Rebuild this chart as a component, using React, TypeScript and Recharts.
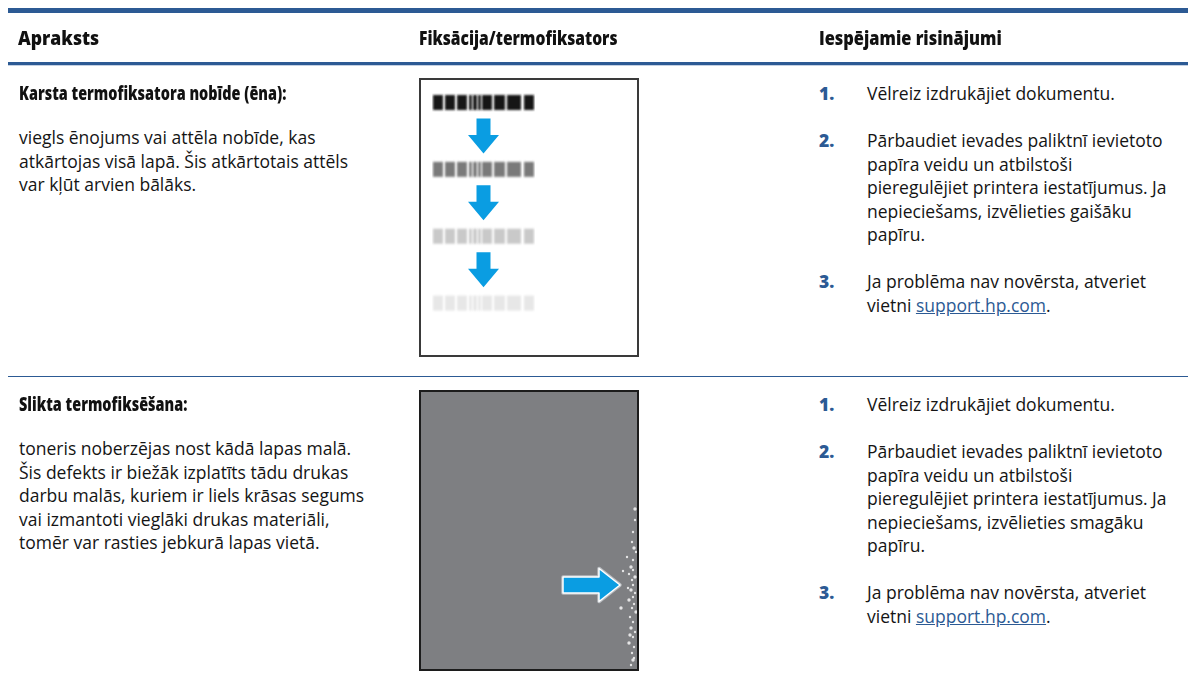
import React from 'react';
import { BarChart, Bar, XAxis, YAxis, ScatterChart, Scatter } from 'recharts';

// ---------- text content ----------
const headers = ['Apraksts', 'Fiksācija/termofiksators', 'Iespējamie risinājumi'];
const rowTitles = ['Karsta termofiksatora nobīde (ēna):', 'Slikta termofiksēšana:'];
const rowDescriptions = [
  ['viegls ēnojums vai attēla nobīde, kas', 'atkārtojas visā lapā. Šis atkārtotais attēls', 'var kļūt arvien bālāks.'],
  [
    'toneris noberzējas nost kādā lapas malā.',
    'Šis defekts ir biežāk izplatīts tādu drukas',
    'darbu malās, kuriem ir liels krāsas segums',
    'vai izmantoti vieglāki drukas materiāli,',
    'tomēr var rasties jebkurā lapas vietā.',
  ],
];
const stepNumbers = ['1.', '2.', '3.'];
const stepOne = 'Vēlreiz izdrukājiet dokumentu.';
const stepTwo = [
  ['Pārbaudiet ievades paliktnī ievietoto', 'papīra veidu un atbilstoši', 'pieregulējiet printera iestatījumus. Ja', 'nepieciešams, izvēlieties gaišāku', 'papīru.'],
  ['Pārbaudiet ievades paliktnī ievietoto', 'papīra veidu un atbilstoši', 'pieregulējiet printera iestatījumus. Ja', 'nepieciešams, izvēlieties smagāku', 'papīru.'],
];
const stepThreeLine = 'Ja problēma nav novērsta, atveriet';
const stepThreePrefix = 'vietni ';
const stepThreeLink = 'support.hp.com';

// ---------- illustration 1: fading ghost barcodes ----------
const ghostRows = ['b1', 'a1', 'b2', 'a2', 'b3', 'a3', 'b4'];
const ghostShades = ['#181818', '#7a7a7a', '#c9c9c9', '#e7e7e7'];
const barcodeSegments = [10, 2, 10, 2, 10, 2, 3, 1, 4, 1, 3, 1, 10, 2, 11, 2, 14, 3, 10];
const barcodeOffset = 14;
const downArrowOffset = 49;
const downArrowWidth = 31;

// ---------- illustration 2: poor fusing speckles ----------
const speckleX = [216, 214, 213, 215, 217, 214, 212, 214, 210, 216, 213, 214, 212, 216, 214, 210, 215, 213, 217, 211, 214, 212, 216, 214, 210, 215, 213, 214, 212, 204, 202, 208, 216, 211, 209, 215];
const speckleY = [119, 142, 152, 158, 162, 170, 177, 180, 184, 187, 190, 195, 200, 203, 207, 210, 214, 218, 222, 227, 232, 238, 242, 247, 253, 257, 263, 270, 275, 181, 218, 167, 130, 245, 198, 268];
const speckles = speckleX.map((x, i) => ({ x, y: speckleY[i] }));
const rightArrow = [{ x: 172, y: 195 }];

const BLUE = '#2c5a94';
const CYAN = '#0a9de2';
const LINE = 23.5;
const ROW_TOPS = [85, 396];
const IMAGE_TOPS = [70, 382];
const IMAGE_HEIGHTS = [279, 281];
const HEADER_X = [10, 411, 811];
const HEADER_SCALE = [0.88, 0.78, 0.82];

const ghostData = (() => {
  let shade = 0;
  return ghostRows.map((row) => {
    const isBar = row.startsWith('b');
    const o: any = { row, kind: isBar ? 'bar' : 'arrow', color: isBar ? ghostShades[shade++] : CYAN };
    o.off = isBar ? barcodeOffset : downArrowOffset;
    barcodeSegments.forEach((w, j) => {
      o['s' + j] = isBar ? w : 0;
    });
    o.arrow = isBar ? 0 : downArrowWidth;
    return o;
  });
})();

const segShape = (j: number) => (p: any) => {
  const { x, y, width, height, payload } = p;
  if (j % 2 === 1 || !width || width <= 0 || !payload || payload.kind !== 'bar') return <g />;
  return <rect x={x} y={y + height / 2 - 7.5} width={width} height={15} fill={payload.color} filter="url(#bcblur)" />;
};

const downArrowShape = (p: any) => {
  const { x, y, width, height, payload } = p;
  if (!width || width <= 0 || !payload || payload.kind !== 'arrow') return <g />;
  const cx = x + width / 2;
  const sh = 7;
  const hh = width / 2;
  const top = y - 1;
  const headY = y + height * 0.47;
  const tip = y + height + 1;
  const pts = [
    [cx - sh, top], [cx + sh, top], [cx + sh, headY], [cx + hh, headY],
    [cx, tip], [cx - hh, headY], [cx - sh, headY],
  ].map((q) => q.join(',')).join(' ');
  return <polygon points={pts} fill={CYAN} />;
};

const rightArrowShape = (p: any) => {
  const { cx, cy } = p;
  const pts = [
    [cx - 28, cy - 8], [cx + 8, cy - 8], [cx + 8, cy - 16.5], [cx + 29, cy],
    [cx + 8, cy + 16.5], [cx + 8, cy + 8], [cx - 28, cy + 8],
  ].map((q) => q.join(',')).join(' ');
  return (
    <g>
      <polygon points={pts} fill="none" stroke="#b9bcc0" strokeWidth={3.5} strokeLinejoin="round" />
      <polygon points={pts} fill={CYAN} stroke="#ffffff" strokeWidth={1.5} strokeLinejoin="round" />
    </g>
  );
};

const speckShape = (p: any) => {
  const { cx, cy, index } = p;
  const r = index % 3 === 0 ? 1.7 : 1.2;
  return <circle cx={cx} cy={cy} r={r} fill="#f1f1f1" fillOpacity={0.9} />;
};

function GhostChart() {
  return (
    <BarChart
      width={220}
      height={279}
      data={ghostData}
      layout="vertical"
      margin={{ top: 8, right: 0, bottom: 37, left: 0 }}
      barCategoryGap={0}
      barGap={0}
    >
      <defs>
        <filter id="bcblur" x="-10%" y="-30%" width="120%" height="160%">
          <feGaussianBlur stdDeviation="0.8" />
        </filter>
      </defs>
      <XAxis type="number" domain={[0, 220]} hide />
      <YAxis type="category" dataKey="row" hide />
      <Bar dataKey="off" stackId="g" fill="transparent" isAnimationActive={false} />
      {barcodeSegments.map((_, j) => (
        <Bar key={j} dataKey={'s' + j} stackId="g" shape={segShape(j)} isAnimationActive={false} />
      ))}
      <Bar dataKey="arrow" stackId="g" shape={downArrowShape} isAnimationActive={false} />
    </BarChart>
  );
}

function FusingChart() {
  return (
    <ScatterChart width={220} height={281} margin={{ top: 0, right: 0, bottom: 0, left: 0 }}>
      <XAxis type="number" dataKey="x" domain={[0, 220]} hide />
      <YAxis type="number" dataKey="y" domain={[0, 281]} reversed hide />
      <Scatter data={speckles} shape={speckShape} isAnimationActive={false} />
      <Scatter data={rightArrow} shape={rightArrowShape} isAnimationActive={false} />
    </ScatterChart>
  );
}

function TextLine({ x, cy, children, style }: any) {
  return (
    <div
      style={{
        position: 'absolute',
        left: x,
        top: cy - 12,
        height: 24,
        lineHeight: '24px',
        whiteSpace: 'nowrap',
        ...style,
      }}
    >
      {children}
    </div>
  );
}

const Condensed = ({ children, scale }: any) => (
  <span style={{ display: 'inline-block', transform: `scaleX(${scale})`, transformOrigin: 'left center' }}>{children}</span>
);

export default function App() {
  const bodyStyle = { fontSize: 17.5, color: '#141414' };
  const numStyle = { fontSize: 17.5, fontWeight: 800, color: BLUE };
  return (
    <div
      style={{
        position: 'relative',
        width: 1188,
        height: 668,
        overflow: 'hidden',
        fontFamily: '"Open Sans", "Noto Sans", sans-serif',
        background: '#fff',
      }}
    >
      {/* top bar */}
      <div style={{ position: 'absolute', left: 0, top: 0, width: 1188, height: 5, background: BLUE }} />
      {/* headers */}
      {headers.map((h, i) => (
        <TextLine key={h} x={HEADER_X[i]} cy={30} style={{ fontSize: 20, fontWeight: 800, color: '#111' }}>
          <Condensed scale={HEADER_SCALE[i]}>{h}</Condensed>
        </TextLine>
      ))}
      <div style={{ position: 'absolute', left: 0, top: 54, width: 1188, height: 3, background: BLUE }} />
      <div style={{ position: 'absolute', left: 0, top: 57, width: 1188, height: 1, background: '#c3d0e2' }} />
      {/* row separator */}
      <div style={{ position: 'absolute', left: 0, top: 368, width: 1188, height: 1, background: BLUE }} />

      {rowTitles.map((title, r) => {
        const T = ROW_TOPS[r];
        const s2 = stepTwo[r];
        const s3 = T + 47 + (s2.length - 1) * LINE + 47;
        return (
          <React.Fragment key={r}>
            <TextLine x={11} cy={T} style={{ fontSize: 18.5, fontWeight: 800, color: '#111' }}>
              <Condensed scale={0.78}>{title}</Condensed>
            </TextLine>
            {rowDescriptions[r].map((ln, k) => (
              <TextLine key={k} x={11} cy={T + 44 + k * LINE} style={bodyStyle}>
                {ln}
              </TextLine>
            ))}
            {/* image */}
            <div
              style={{
                position: 'absolute',
                left: 411,
                top: IMAGE_TOPS[r],
                width: 220,
                height: IMAGE_HEIGHTS[r],
                background: r === 0 ? '#ffffff' : '#7e7f82',
              }}
            >
              {r === 0 ? <GhostChart /> : <FusingChart />}
              <div
                style={{
                  position: 'absolute',
                  inset: 0,
                  border: r === 0 ? '2px solid #3a3a3a' : '2px solid #1c1c1c',
                  pointerEvents: 'none',
                }}
              />
            </div>
            {/* steps */}
            <TextLine x={811} cy={T} style={numStyle}>{stepNumbers[0]}</TextLine>
            <TextLine x={859} cy={T} style={bodyStyle}>{stepOne}</TextLine>
            <TextLine x={811} cy={T + 47} style={numStyle}>{stepNumbers[1]}</TextLine>
            {s2.map((ln, k) => (
              <TextLine key={'s2' + k} x={859} cy={T + 47 + k * LINE} style={bodyStyle}>
                {ln}
              </TextLine>
            ))}
            <TextLine x={811} cy={s3} style={numStyle}>{stepNumbers[2]}</TextLine>
            <TextLine x={859} cy={s3} style={bodyStyle}>{stepThreeLine}</TextLine>
            <TextLine x={859} cy={s3 + LINE} style={bodyStyle}>
              {stepThreePrefix}
              <span style={{ color: BLUE, textDecoration: 'underline' }}>{stepThreeLink}</span>.
            </TextLine>
          </React.Fragment>
        );
      })}
    </div>
  );
}
